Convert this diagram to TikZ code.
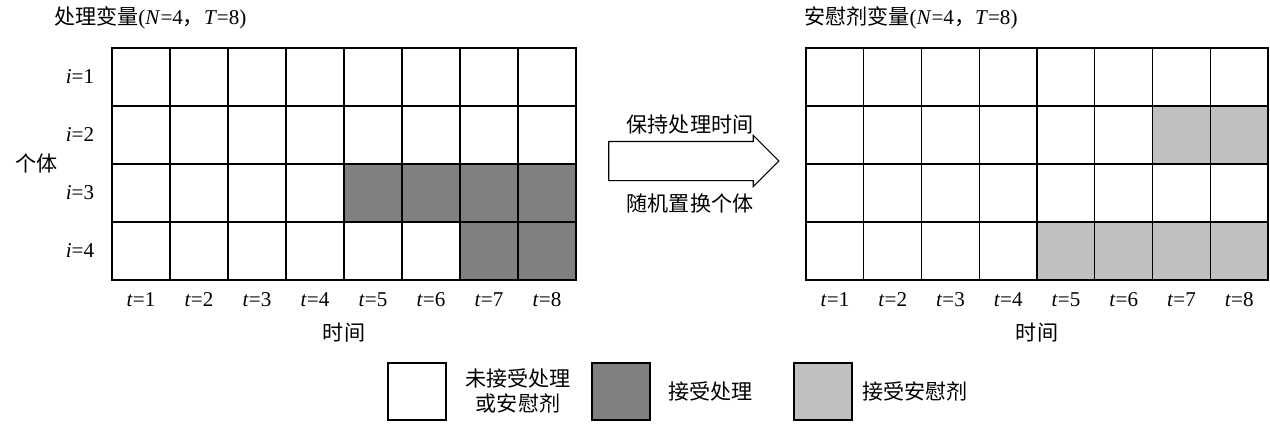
\documentclass[tikz,border=0pt]{standalone}
\usepackage{fontspec}
\setmainfont{Liberation Serif}
\newfontfamily\cjk{Noto Sans CJK SC}
\usetikzlibrary{positioning,shapes.arrows}
\definecolor{treatgray}{HTML}{808080}
\definecolor{placebogray}{HTML}{C0C0C0}
\tikzset{
  cell/.style={draw=black, line width=0.6pt},
  lab/.style={font=\fontsize{12pt}{14pt}\selectfont, inner sep=1pt},
  cn/.style={font=\fontsize{12pt}{14pt}\selectfont\cjk, inner sep=1pt, align=center}
}
\begin{document}
\begin{tikzpicture}[x=0.02cm,y=-0.02cm]
       \useasboundingbox (0,0) rectangle (1270,433);
       % left grid
       \foreach \r in {1,...,4}{\foreach \c in {1,...,8}{
          \draw[cell] ({112+(\c-1)*58},{48+(\r-1)*58}) rectangle ++(58,58);}}
       \foreach \r/\c in {3/5,3/6,3/7,3/8,4/7,4/8}{
          \draw[cell, fill=treatgray] ({112+(\c-1)*58},{48+(\r-1)*58}) rectangle ++(58,58);}
       % right grid
       \foreach \r in {1,...,4}{\foreach \c in {1,...,8}{
          \draw[cell] ({806+(\c-1)*57.75},{48+(\r-1)*58}) rectangle ++(57.75,58);}}
       \foreach \r/\c in {2/7,2/8,4/5,4/6,4/7,4/8}{
          \draw[cell, fill=placebogray] ({806+(\c-1)*57.75},{48+(\r-1)*58}) rectangle ++(57.75,58);}
       % row and column labels
       \foreach \r in {1,...,4}{\node[lab] (row\r) at (80,{77+(\r-1)*58}) {\textit{i}=\r};}
       \foreach \c in {1,...,8}{
          \node[lab] (lt\c) at ({141+(\c-1)*58},300) {\textit{t}=\c};
          \node[lab] (rt\c) at ({835+(\c-1)*57.75},300) {\textit{t}=\c};}
       \node[cn] (unit) at (37,163) {个体};
       \node[cn] (ltime) at (344,333) {时间};
       \node[cn] (rtime) at (1037,333) {时间};
       \node[lab, anchor=west] (ltitle) at (52,18) {{\cjk 处理变量}(\textit{N}=4{\cjk ，}\textit{T}=8)};
       \node[lab, anchor=west] (rtitle) at (802,18) {{\cjk 安慰剂变量}(\textit{N}=4{\cjk ，}\textit{T}=8)};
       % arrow
       \node[single arrow, draw, line width=0.6pt, minimum width=50*0.02cm, inner sep=0.38cm,
             minimum height=170*0.02cm, single arrow head extend=0.12cm,
             single arrow head indent=0pt] (shift) at (684,161) {};
       \node[cn] (keep) at (690,125) {保持处理时间};
       \node[cn] (perm) at (690,203) {随机置换个体};
       % legend
       \draw[cell] (388,363) rectangle (446,420);
       \draw[cell, fill=treatgray] (592,363) rectangle (650,420);
       \draw[cell, fill=placebogray] (794,363) rectangle (852,420);
       \node[cn] (lgnone) at (518,391) {未接受处理\\或安慰剂};
       \node[cn, anchor=west] (lgtreat) at (666,391) {接受处理};
       \node[cn, anchor=west] (lgplac) at (860,391) {接受安慰剂};
\end{tikzpicture}
\end{document}
